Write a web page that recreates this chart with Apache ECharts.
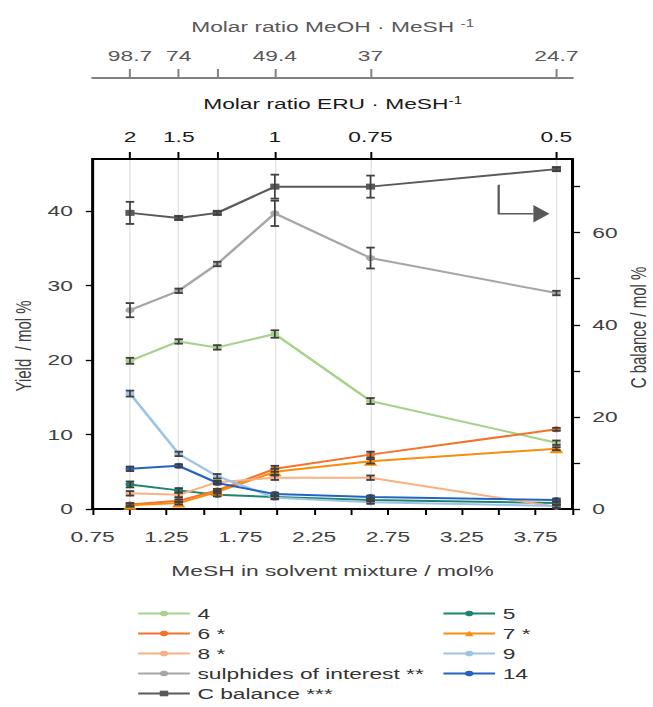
<!DOCTYPE html>
<html><head><meta charset="utf-8">
<script src="https://cdn.jsdelivr.net/npm/echarts@6/dist/echarts.min.js"></script>
<style>
html,body{margin:0;padding:0;background:#fff;overflow:hidden}
#wrap{width:653px;height:707px;overflow:hidden;position:relative}
#chart{position:absolute;left:0;top:0;width:430px;height:707px;transform:scaleX(1.5186);transform-origin:0 0}
</style>
</head><body><div id="wrap"><div id="chart"></div></div>
<script>
// ---- data ----
const xMeSH = [1.003, 1.333, 1.594, 1.984, 2.632, 3.891];
const eruTickLabels = ['2', '1.5', '', '1', '0.75', '0.5'];
const meohTickLabels = ['98.7', '74', '', '49.4', '37', '24.7'];
const bottomTicks = [0.75, 1, 1.25, 1.5, 1.75, 2, 2.25, 2.5, 2.75, 3, 3.25, 3.5, 3.75, 4];
const bottomLabels = [0.75, 1.25, 1.75, 2.25, 2.75, 3.25, 3.75];
const leftTicks = [0, 10, 20, 30, 40];
const rightTicks = [0, 10, 20, 30, 40, 50, 60, 70];
const rightLabels = [0, 20, 40, 60];

const y4 = [19.9, 22.5, 21.7, 23.5, 14.5, 8.9];
const e4 = [0.4, 0.3, 0.3, 0.5, 0.4, 0.3];
const y5 = [3.3, 2.5, 1.9, 1.6, 1.2, 0.8];
const e5 = [0.4, 0.3, 0.2, 0.2, 0.2, 0.2];
const y6 = [0.6, 1.1, 2.5, 5.4, 7.3, 10.7];
const e6 = [0.2, 0.2, 0.2, 0.4, 0.4, 0.2];
const y7 = [0.5, 0.8, 2.3, 5.0, 6.4, 8.1];
const e7 = [0.2, 0.2, 0.2, 0.4, 0.3, 0.2];
const y8 = [2.1, 1.9, 3.6, 4.2, 4.2, 0.3];
const e8 = [0.3, 0.3, 0.2, 0.3, 0.3, 0.2];
const y9 = [15.5, 7.4, 4.4, 1.5, 0.9, 0.4];
const e9 = [0.4, 0.3, 0.3, 0.2, 0.2, 0.2];
const ySulph = [26.7, 29.3, 32.9, 39.7, 33.7, 29.0];
const eSulph = [0.95, 0.3, 0.3, 1.7, 1.4, 0.3];
const y14 = [5.4, 5.8, 3.5, 2.0, 1.6, 1.2];
const e14 = [0.3, 0.2, 0.2, 0.2, 0.2, 0.2];
const yC = [64.3, 63.2, 64.3, 70.0, 70.0, 73.8];
const eC = [2.4, 0.4, 0.4, 2.6, 2.4, 0.4];

// annotation arrow (x on bottom axis, y on right axis)
const arrowLine = [[3.50, 70.4], [3.50, 64.1], [3.735, 64.1]];
const arrowHead = [[3.735, 66.0], [3.844, 64.1], [3.735, 62.2]];

const FONT = 'Liberation Sans, Arial, sans-serif';
const seriesDefs = [
  {name: '4', y: y4, e: e4, color: '#a9d18e', symbol: 'circle', size: 6, axis: 0},
  {name: '5', y: y5, e: e5, color: '#1c8470', symbol: 'circle', size: 6, axis: 0},
  {name: '6 *', y: y6, e: e6, color: '#f4732a', symbol: 'circle', size: 6, axis: 0},
  {name: '7 *', y: y7, e: e7, color: '#f98c0c', symbol: 'triangle', size: 9, axis: 0},
  {name: '8 *', y: y8, e: e8, color: '#f8b085', symbol: 'circle', size: 6, axis: 0},
  {name: '9', y: y9, e: e9, color: '#9dc3e6', symbol: 'circle', size: 6, axis: 0},
  {name: 'sulphides of interest **', y: ySulph, e: eSulph, color: '#a6a6a6', symbol: 'circle', size: 6, axis: 0},
  {name: '14', y: y14, e: e14, color: '#2463c2', symbol: 'circle', size: 6, axis: 0},
  {name: 'C balance ***', y: yC, e: eC, color: '#595959', symbol: 'rect', size: 6, axis: 1}
];

function nearestIdx(v) {
  let best = 0;
  xMeSH.forEach((x, i) => { if (Math.abs(x - v) < Math.abs(xMeSH[best] - v)) best = i; });
  return best;
}

function renderErr(params, api) {
  const x = api.value(0), y = api.value(1), e = api.value(2);
  const lo = api.coord([x, y - e]), hi = api.coord([x, y + e]);
  const w = 2.8;
  const st = {stroke: '#3f3f3f', lineWidth: 1.8};
  return {type: 'group', children: [
    {type: 'line', shape: {x1: lo[0], y1: lo[1], x2: hi[0], y2: hi[1]}, style: {stroke: '#3f3f3f', lineWidth: 1.1}},
    {type: 'line', shape: {x1: lo[0] - w, y1: lo[1], x2: lo[0] + w, y2: lo[1]}, style: st},
    {type: 'line', shape: {x1: hi[0] - w, y1: hi[1], x2: hi[0] + w, y2: hi[1]}, style: st}
  ]};
}

const series = [];
seriesDefs.forEach(d => {
  series.push({
    name: d.name, type: 'line', xAxisIndex: 0, yAxisIndex: d.axis,
    data: xMeSH.map((x, i) => [x, d.y[i]]),
    symbol: d.symbol, symbolSize: d.size, showSymbol: true,
    lineStyle: {color: d.color, width: 2},
    itemStyle: {color: d.color},
    emphasis: {disabled: true}, z: 2
  });
  series.push({
    type: 'custom', xAxisIndex: 0, yAxisIndex: d.axis,
    data: xMeSH.map((x, i) => [x, d.y[i], d.e[i]]),
    encode: {x: 0, y: 1}, renderItem: renderErr, z: 3, silent: true
  });
});

const lbl = (c) => ({fontFamily: FONT, fontSize: 15, color: c});
const sup = (main) => ({
  fontFamily: FONT,
  rich: {
    a: {fontFamily: FONT, fontSize: 15, lineHeight: 18, color: main},
    s: {fontFamily: FONT, fontSize: 10, lineHeight: 10, verticalAlign: 'top', color: main}
  }
});

const legendBase = {
  orient: 'vertical', top: 606, padding: 0, itemWidth: 34, itemHeight: 7, itemGap: 5,
  textStyle: {fontFamily: FONT, fontSize: 15, color: '#333'},
  selectedMode: false
};

const option = {
  animation: false,
  backgroundColor: '#fff',
  grid: {left: 61, right: 53, top: 159, bottom: 198, containLabel: false, outerBoundsMode: 'none'},
  xAxis: [
    {
      type: 'value', position: 'bottom', min: 0.75, max: 4,
      axisLine: {show: true, onZero: false, lineStyle: {color: '#000', width: 2}},
      axisTick: {show: true, inside: false, length: 6, customValues: bottomTicks, lineStyle: {color: '#000', width: 1.3}},
      axisLabel: {customValues: bottomLabels, margin: 20, formatter: v => v.toFixed(2), ...lbl('#404040')},
      splitLine: {show: false},
      name: 'MeSH in solvent mixture / mol%', nameLocation: 'middle', nameGap: 54,
      nameTextStyle: lbl('#404040')
    },
    {
      type: 'value', position: 'top', min: 0.75, max: 4,
      axisLine: {show: true, onZero: false, lineStyle: {color: '#000', width: 2}},
      axisTick: {show: true, inside: false, length: 7, customValues: xMeSH, lineStyle: {color: '#000', width: 1.3}},
      axisLabel: {customValues: xMeSH.filter((x, i) => eruTickLabels[i] !== ''), margin: 15,
        formatter: v => eruTickLabels[nearestIdx(v)], ...lbl('#1a1a1a')},
      splitLine: {show: true, lineStyle: {color: '#e4e4e4', width: 1}},
      name: '{a|Molar ratio ERU · MeSH}{s|-1}', nameLocation: 'middle', nameGap: 46,
      nameTextStyle: sup('#1a1a1a')
    },
    {
      type: 'value', position: 'top', offset: 81, min: 0.75, max: 4,
      axisLine: {show: true, onZero: false, lineStyle: {color: '#808080', width: 2}},
      axisTick: {show: true, inside: false, length: 9, customValues: xMeSH, lineStyle: {color: '#808080', width: 1.3}},
      axisLabel: {customValues: xMeSH.filter((x, i) => meohTickLabels[i] !== ''), margin: 15,
        formatter: v => meohTickLabels[nearestIdx(v)], ...lbl('#595959')},
      splitLine: {show: false},
      name: '{a|Molar ratio MeOH · MeSH }{s|-1}', nameLocation: 'middle', nameGap: 42,
      nameTextStyle: sup('#595959')
    }
  ],
  yAxis: [
    {
      type: 'value', position: 'left', min: 0, max: 47,
      axisLine: {show: true, onZero: false, lineStyle: {color: '#000', width: 2}},
      axisTick: {show: true, inside: false, length: 4.5, customValues: leftTicks, lineStyle: {color: '#000', width: 1.3}},
      axisLabel: {customValues: leftTicks, margin: 13, ...lbl('#404040')},
      splitLine: {show: false},
      name: 'Yield  / mol %', nameLocation: 'middle', nameRotate: 90, nameGap: 38, nameMoveOverlap: false,
      nameTextStyle: {...lbl('#404040'), padding: [0, 24, 0, 0]}
    },
    {
      type: 'value', position: 'right', min: 0, max: 76,
      axisLine: {show: true, onZero: false, lineStyle: {color: '#000', width: 2}},
      axisTick: {show: true, inside: false, length: 5, customValues: rightTicks, lineStyle: {color: '#000', width: 1.3}},
      axisLabel: {customValues: rightLabels, margin: 13, ...lbl('#404040')},
      splitLine: {show: false},
      name: 'C balance / mol %', nameLocation: 'middle', nameRotate: 90, nameGap: 36, nameMoveOverlap: false,
      nameTextStyle: {...lbl('#404040'), padding: [0, 0, 0, 13]}
    }
  ],
  legend: [
    Object.assign({}, legendBase, {left: 90, data: ['4', '6 *', '8 *', 'sulphides of interest **', 'C balance ***']}),
    Object.assign({}, legendBase, {left: 291, data: ['5', '7 *', '9', '14']})
  ],
  series: series
};

const chart = echarts.init(document.getElementById('chart'), null, {renderer: 'svg'});
chart.setOption(option);

const toPx = p => chart.convertToPixel({xAxisIndex: 0, yAxisIndex: 1}, p);
chart.setOption({
  graphic: [
    {type: 'polyline', shape: {points: arrowLine.map(toPx)}, style: {stroke: '#595959', lineWidth: 1.5, fill: null}, z: 5},
    {type: 'polygon', shape: {points: arrowHead.map(toPx)}, style: {fill: '#595959'}, z: 5}
  ]
});
</script>
</body></html>
